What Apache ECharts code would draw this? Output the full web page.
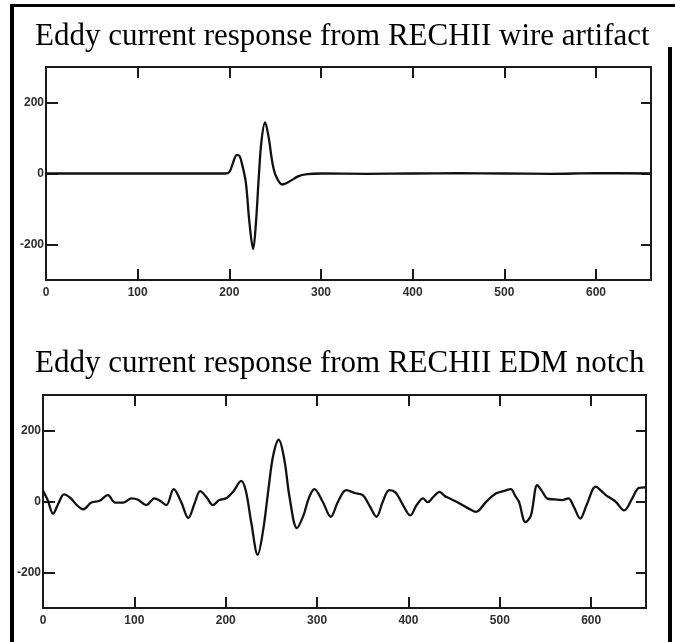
<!DOCTYPE html>
<html>
<head>
<meta charset="utf-8">
<script src="https://cdn.jsdelivr.net/npm/echarts@6/dist/echarts.min.js"></script>
<style>
html,body{margin:0;padding:0;background:#fff;}
#c{width:675px;height:642px;}
</style>
</head>
<body>
<div id="c"></div>
<script>
// ---- data ----
const title1 = 'Eddy current response from RECHII wire artifact';
const title2 = 'Eddy current response from RECHII EDM notch';
const xTickLabels = [0, 100, 200, 300, 400, 500, 600];
const yTickLabels = [-200, 0, 200];

const wireX = [0, 50, 100, 150, 195, 200, 204, 208, 211, 214, 218, 222, 226, 229, 232, 235, 239, 243, 247, 251, 258, 266, 275, 285, 300, 350, 400, 450, 500, 550, 600, 660];
const wireY = [0, 0, 0, 0, 0, 4, 30, 52, 50, 25, -25, -140, -213, -140, -15, 90, 144, 100, 30, -8, -31, -22, -8, -2, 0, -1, 0, 1, 0, -1, 1, 0];

const notchX = [0, 5, 11, 17, 23, 30, 37, 44, 53, 62, 71, 79, 88, 97, 104, 113, 122, 128, 135, 143, 151, 159, 166, 172, 179, 186, 193, 201, 208, 217, 222, 228, 235, 241, 247, 252, 258, 264, 270, 278, 285, 291, 297, 306, 315, 323, 332, 341, 350, 357, 365, 372, 379, 386, 393, 402, 409, 416, 421, 427, 434, 440, 445, 452, 459, 466, 474, 485, 496, 505, 512, 517, 521, 528, 534, 541, 546, 552, 560, 568, 575, 581, 588, 595, 605, 611, 616, 622, 627, 636, 645, 652, 659];
const notchY = [30, 5, -34, -5, 20, 10, -10, -22, -3, 2, 18, -3, -3, 9, 5, -10, 9, 2, -10, 35, 0, -46, -5, 29, 12, -10, 4, 10, 27, 58, 30, -60, -150, -80, 40, 130, 174, 120, 10, -75, -40, 10, 35, 0, -43, 0, 32, 24, 18, -10, -43, 0, 32, 25, -5, -39, -10, 9, -2, 12, 27, 15, 9, 0, -10, -20, -29, -1, 23, 30, 35, 15, -1, -58, -40, 46, 30, 8, 6, 4, 9, -15, -48, -10, 42, 30, 18, 8, -1, -25, 9, 38, 40];

// ---- chart ----
const toPairs = (xs, ys) => xs.map((x, i) => [x, ys[i]]);
const ink = '#1a1a1a';
const labelStyle = {fontFamily: 'Liberation Sans', fontWeight: 'bold', fontSize: 12, color: '#2e2e2e'};

function xAxes(g) {
  return [
    {gridIndex: g, type: 'value', min: 0, max: 660, position: 'bottom',
     axisLine: {show: true, onZero: false, lineStyle: {color: ink, width: 2}},
     axisTick: {show: true, inside: true, length: 11, customValues: xTickLabels.slice(1), lineStyle: {color: ink, width: 2}},
     axisLabel: Object.assign({show: true, margin: 7, customValues: xTickLabels}, labelStyle),
     splitLine: {show: false}},
    {gridIndex: g, type: 'value', min: 0, max: 660, position: 'top',
     axisLine: {show: true, onZero: false, lineStyle: {color: ink, width: 2}},
     axisTick: {show: true, inside: true, length: 11, customValues: xTickLabels.slice(1), lineStyle: {color: ink, width: 2}},
     axisLabel: {show: false},
     splitLine: {show: false}}
  ];
}
function yAxes(g) {
  return [
    {gridIndex: g, type: 'value', min: -300, max: 300, position: 'left',
     axisLine: {show: true, onZero: false, lineStyle: {color: ink, width: 2}},
     axisTick: {show: true, inside: true, length: 12, customValues: yTickLabels, lineStyle: {color: ink, width: 2}},
     axisLabel: Object.assign({show: true, margin: 2, customValues: yTickLabels}, labelStyle),
     splitLine: {show: false}},
    {gridIndex: g, type: 'value', min: -300, max: 300, position: 'right',
     axisLine: {show: true, onZero: false, lineStyle: {color: ink, width: 2}},
     axisTick: {show: true, inside: true, length: 10, customValues: yTickLabels, lineStyle: {color: ink, width: 2}},
     axisLabel: {show: false},
     splitLine: {show: false}}
  ];
}

const chart = echarts.init(document.getElementById('c'), null, {renderer: 'canvas'});
chart.setOption({
  animation: false,
  backgroundColor: '#fff',
  grid: [
    {left: 46, right: 24, top: 67, height: 213},
    {left: 43, right: 29, top: 395, height: 213}
  ],
  xAxis: xAxes(0).concat(xAxes(1)),
  yAxis: yAxes(0).concat(yAxes(1)),
  series: [
    {type: 'line', xAxisIndex: 0, yAxisIndex: 0, data: toPairs(wireX, wireY), smooth: 0.35,
     showSymbol: false, lineStyle: {color: '#111', width: 2.3}},
    {type: 'line', xAxisIndex: 2, yAxisIndex: 2, data: toPairs(notchX, notchY), smooth: 0.35,
     showSymbol: false, lineStyle: {color: '#111', width: 2.3}}
  ],
  graphic: [
    {type: 'rect', shape: {x: 10, y: 4, width: 665, height: 3}, style: {fill: '#000'}},
    {type: 'rect', shape: {x: 10, y: 4, width: 4, height: 638}, style: {fill: '#000'}},
    {type: 'rect', shape: {x: 668, y: 47, width: 4, height: 595}, style: {fill: '#000'}},
    {type: 'text', x: 35, y: 36.5, style: {text: title1, font: '31px "Liberation Serif"', fill: '#000', verticalAlign: 'middle', align: 'left'}},
    {type: 'text', x: 35, y: 363.5, style: {text: title2, font: '31px "Liberation Serif"', fill: '#000', verticalAlign: 'middle', align: 'left'}}
  ]
});
</script>
</body>
</html>
